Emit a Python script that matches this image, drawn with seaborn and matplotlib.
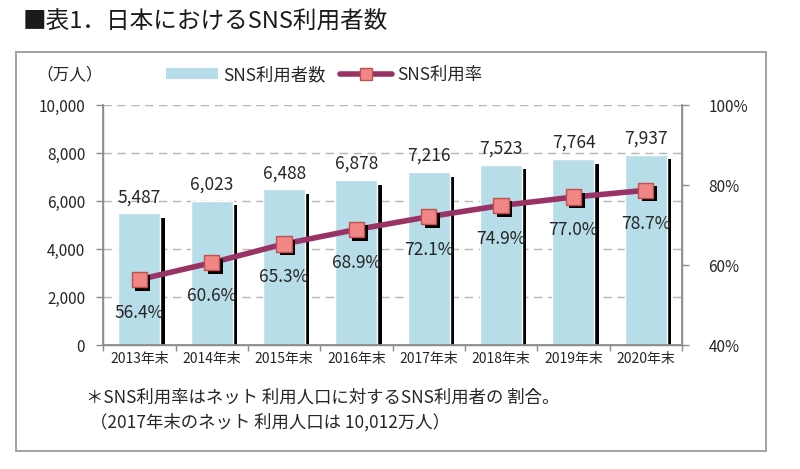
import matplotlib
matplotlib.use("Agg")
import matplotlib.pyplot as plt
import matplotlib.patheffects as pe
from matplotlib.patches import Patch, Rectangle
from matplotlib.lines import Line2D
from matplotlib.ticker import FuncFormatter, FixedLocator
import seaborn as sns


years = ["2013年末", "2014年末", "2015年末", "2016年末",
         "2017年末", "2018年末", "2019年末", "2020年末"]
users = [5487, 6023, 6488, 6878, 7216, 7523, 7764, 7937]
rates = [56.4, 60.6, 65.3, 68.9, 72.1, 74.9, 77.0, 78.7]


sns.set_theme(style="white")
plt.rcParams["font.family"] = ["Noto Sans CJK JP", "DejaVu Sans"]

text_col = "#262626"
bar_col = "#b7dde8"
line_col = "#993366"
marker_face = "#f08686"
marker_edge = "#c0504d"
spine_col = "#8c8c8c"


fig = plt.figure(
    figsize=(8, 4.69),
    dpi=100
)

ax = fig.add_axes([0.129, 0.264, 0.7235, 0.512])


sns.barplot(
    x=years,
    y=users,
    color=bar_col,
    width=0.58,
    saturation=1,
    ax=ax
)

for bar in ax.patches:
    bar.set_path_effects([
        pe.SimplePatchShadow(offset=(3, -3.5), shadow_rgbFace="black", alpha=1),
        pe.Normal()
    ])

for i, v in enumerate(users):
    ax.annotate(
        f"{v:,}",
        (i, v),
        xytext=(0, 5),
        textcoords="offset points",
        ha="center",
        va="bottom",
        fontsize=12.5,
        color=text_col
    )

ax.set_ylim(0, 10000)
ax.set_xlim(-0.5, len(years) - 0.5)
ax.yaxis.set_major_locator(FixedLocator(range(0, 10001, 2000)))
ax.yaxis.set_major_formatter(FuncFormatter(lambda v, p: f"{int(v):,}"))
ax.yaxis.grid(True, linestyle=(0, (6, 4)), color="#b5b5b5", linewidth=1)
ax.set_axisbelow(True)
ax.set_xlabel("")
ax.set_ylabel("")

ax.tick_params(axis="y", which="major", length=5, width=1,
               color=spine_col, labelsize=11, labelcolor=text_col, pad=8, left=True)
ax.tick_params(axis="x", which="major", length=0, labelsize=10,
               labelcolor=text_col, pad=5)
ax.set_xticks([i - 0.5 for i in range(len(years) + 1)], minor=True)
ax.tick_params(axis="x", which="minor", length=4, color=spine_col, bottom=True)

for side in ["left", "bottom", "right"]:
    ax.spines[side].set_color(spine_col)
    ax.spines[side].set_linewidth(1)
ax.spines["top"].set_visible(False)


ax2 = ax.twinx()

sns.pointplot(
    x=years,
    y=rates,
    color=line_col,
    markers="",
    linewidth=4,
    errorbar=None,
    ax=ax2
)

sns.pointplot(
    x=years,
    y=rates,
    color=marker_face,
    markers="s",
    linestyles="none",
    markersize=11,
    markeredgecolor=marker_edge,
    markeredgewidth=1,
    errorbar=None,
    ax=ax2
)

ax2.lines[-1].set_path_effects([
    pe.SimplePatchShadow(offset=(2.5, -2.5), shadow_rgbFace="black", alpha=1),
    pe.Normal()
])

for i, r in enumerate(rates):
    ax2.annotate(
        f"{r:.1f}%",
        (i, r),
        xytext=(0, -24),
        textcoords="offset points",
        ha="center",
        va="center",
        fontsize=12.5,
        color=text_col
    )

ax2.set_ylim(40, 100)
ax2.yaxis.set_major_locator(FixedLocator([40, 60, 80, 100]))
ax2.yaxis.set_major_formatter(FuncFormatter(lambda v, p: f"{int(v)}%"))
ax2.tick_params(axis="y", length=5, width=1, color=spine_col,
                labelsize=11, labelcolor=text_col, pad=14, right=True)
ax2.set_xlim(-0.5, len(years) - 0.5)
ax2.set_ylabel("")
ax2.grid(False)
for side in ["left", "bottom", "right"]:
    ax2.spines[side].set_color(spine_col)
ax2.spines["top"].set_visible(False)
ax2.set_xticks(range(len(years)))
ax2.set_xticklabels(years)


handles = [
    Patch(facecolor=bar_col, edgecolor="none"),
    Line2D([0], [0], color=line_col, linewidth=4, marker="s", markersize=9,
           markerfacecolor=marker_face, markeredgecolor=marker_edge)
]

fig.legend(
    handles,
    ["SNS利用者数", "SNS利用率"],
    loc="center",
    bbox_to_anchor=(0.405, 0.84),
    ncol=2,
    frameon=False,
    fontsize=12.5,
    handlelength=3,
    handleheight=0.6,
    columnspacing=0.8,
    handletextpad=0.3,
    labelcolor=text_col
)


fig.text(0.028, 0.952, "■表1．日本におけるSNS利用者数",
         fontsize=17, color="#1a1a1a", va="center", ha="left")

fig.text(0.046, 0.84, "（万人）", fontsize=12, color=text_col,
         va="center", ha="left")

fig.text(0.108, 0.151, "＊SNS利用率はネット 利用人口に対するSNS利用者の 割合。",
         fontsize=12.5, color=text_col, va="center", ha="left")
fig.text(0.112, 0.099, "（2017年末のネット 利用人口は 10,012万人）",
         fontsize=12.5, color=text_col, va="center", ha="left")

fig.patches.append(
    Rectangle((0.02, 0.038), 0.9375, 0.851, transform=fig.transFigure,
              fill=False, edgecolor="#9a9a9a", linewidth=1.3)
)


fig.savefig("out.png", dpi=100)
